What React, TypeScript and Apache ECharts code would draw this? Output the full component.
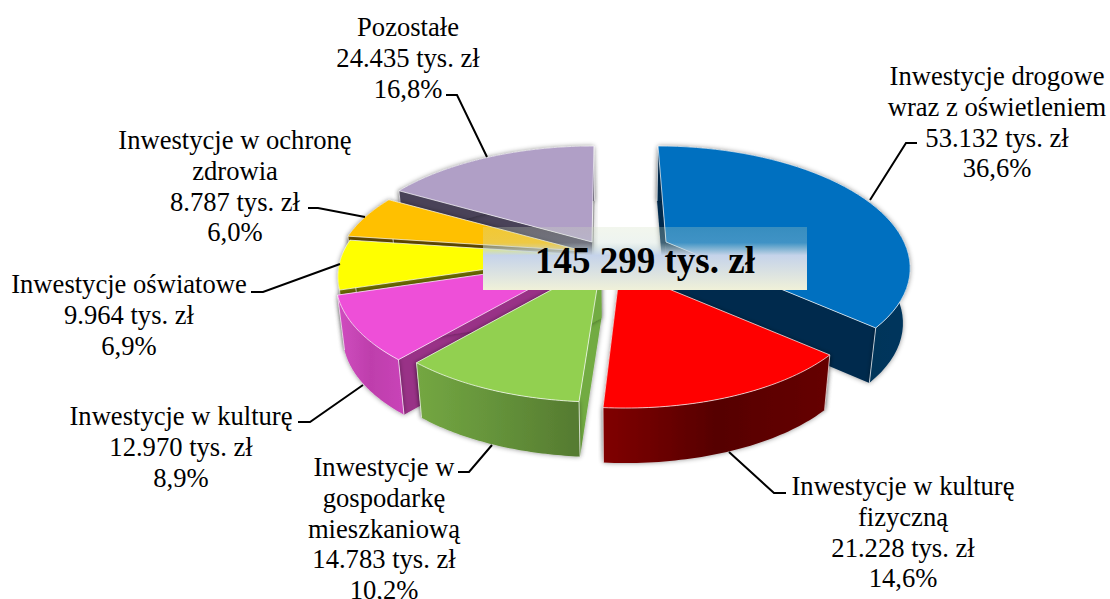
import React, { useEffect, useRef } from "react";
import * as echarts from "echarts";

const categories = [
  "Inwestycje drogowe\nwraz z oświetleniem",
  "Inwestycje w kulturę\nfizyczną",
  "Inwestycje w\ngospodarkę\nmieszkaniową",
  "Inwestycje w kulturę",
  "Inwestycje oświatowe",
  "Inwestycje w ochronę\nzdrowia",
  "Pozostałe",
];
const values = [53132, 21228, 14783, 12970, 9964, 8787, 24435];
const valueLabels = ["53.132", "21.228", "14.783", "12.970", "9.964", "8.787", "24.435"];
const percentLabels = ["36,6%", "14,6%", "10,2%", "8,9%", "6,9%", "6,0%", "16,8%"];
const totalLabel = "145 299 tys. zł";

// layout
const apex = [[666, 242], [620, 269], [601, 263], [583, 260], [585, 255], [583, 251], [592, 242]];
const radiusScale = [0.98, 1, 1, 1, 1, 1, 1];
const skew = [0.083, 0.036, 0, 0, 0, 0, -0.02];
const paintOrder = [1, 6, 5, 4, 3, 2, 0];
const labelPos = [[997, 61], [903, 471], [384, 452], [181, 401], [129, 269], [235, 125], [408, 12]];
const elbows = [
  [[870, 200], [906, 143], [917, 143]],
  [[729, 452], [774, 493], [786, 493]],
  [[492, 445], [469, 472], [458, 472]],
  [[363, 385], [310, 422], [298, 422]],
  [[340, 264], [263, 292], [251, 292]],
  [[365, 217], [318, 208], [308, 208]],
  [[487, 157], [457, 95], [446, 95]],
];
const topColors = ["#0070C0", "#FF0000", "#92D050", "#EE4FD8", "#FFFF00", "#FFC000", "#B09FC6"];
const startFaceColors = ["#002C4E", "#7D0000", "#72AB42", "#993087", "#6E6E00", "#664D00", "#4A4358"];
const endFaceColors = ["#002C4E", "#7D0000", "#72AB42", "#993087", "#6E6E00", "#664D00", "#A0A0A0"];
const wallStops: string[][] = [
  ["#002C4E", "#00365C"],
  ["#800000", "#560000", "#660000"],
  ["#74A742", "#64923A", "#557A30"],
  ["#D04EC0", "#BE3EAC", "#C944B8"],
  ["#6E6E00", "#6E6E00"],
  ["#664D00", "#664D00"],
  ["#4A4358", "#4A4358"],
];

const A = 243, B = 113.6, K = 0.183, DEPTH = 55, SHRINK = 0.975, XC = 620;
const total = values.reduce((a, b) => a + b, 0);

function rim(i: number, deg: number) {
  const t = (deg * Math.PI) / 180;
  const w = 1 + K * Math.cos(t);
  const y = -(B * Math.cos(t)) / w;
  const x = (A * radiusScale[i] * Math.sin(t)) / w + skew[i] * y;
  return [apex[i][0] + x, apex[i][1] + y];
}
const lower = (p: number[]) => [XC + (p[0] - XC) * SHRINK, p[1] + DEPTH];

function gradient(stops: string[]) {
  return new echarts.graphic.LinearGradient(
    0, 0, 1, 0,
    stops.map((color, k) => ({ offset: k / (stops.length - 1), color }))
  );
}

const shadow = { shadowBlur: 5, shadowColor: "rgba(0,0,0,0.45)" };
const edge = "rgba(255,255,255,0.7)";

function renderSlice(params: any, api: any) {
  const i = params.dataIndex;
  const before = values.slice(0, i).reduce((a, b) => a + b, 0);
  const start = (before / total) * 360;
  const end = start + (api.value(0) / total) * 360;
  const arc: number[][] = [];
  const n = 48;
  for (let k = 0; k <= n; k++) arc.push(rim(i, start + ((end - start) * k) / n));
  const c = apex[i];
  const cl = lower(c);
  const first = arc[0];
  const last = arc[n];
  const z = paintOrder[i] * 10;
  return {
    type: "group",
    children: [
      {
        type: "polygon",
        z2: z,
        shape: { points: [first, c, cl, lower(first)] },
        style: { fill: startFaceColors[i], ...shadow },
      },
      {
        type: "polygon",
        z2: z + 1,
        shape: { points: [last, c, cl, lower(last)] },
        style: { fill: endFaceColors[i], ...shadow },
      },
      {
        type: "polygon",
        z2: z + 2,
        shape: { points: [...arc, ...arc.map(lower).reverse()] },
        style: { fill: gradient(wallStops[i]), ...shadow },
      },
      {
        type: "polyline",
        z2: z + 3,
        shape: { points: [last, lower(last)] },
        style: { fill: "none", stroke: edge, lineWidth: 1 },
      },
      {
        type: "polyline",
        z2: z + 3,
        shape: { points: [first, lower(first)] },
        style: { fill: "none", stroke: edge, lineWidth: 1 },
      },
      {
        type: "polygon",
        z2: z + 4,
        shape: { points: [c, ...arc] },
        style: { fill: topColors[i], stroke: edge, lineWidth: 1 },
      },
    ],
  };
}

function renderLabel(params: any) {
  const i = params.dataIndex;
  const text = `${categories[i]}\n${valueLabels[i]} tys. zł\n${percentLabels[i]}`;
  return {
    type: "group",
    children: [
      {
        type: "polyline",
        shape: { points: elbows[i] },
        style: { fill: "none", stroke: "#000", lineWidth: 2 },
      },
      {
        type: "text",
        x: labelPos[i][0],
        y: labelPos[i][1],
        style: {
          text,
          fill: "#000",
          font: '26.6px "Liberation Serif"',
          align: "center",
          verticalAlign: "top",
          lineHeight: 30.6,
        },
      },
    ],
  };
}

function renderTotal() {
  return {
    type: "group",
    children: [
      {
        type: "rect",
        shape: { x: 483, y: 227, width: 324, height: 63 },
        style: {
          fill: new echarts.graphic.LinearGradient(0, 0, 0, 1, [
            { offset: 0, color: "rgba(207,222,190,0.27)" },
            { offset: 0.25, color: "rgba(200,220,210,0.32)" },
            { offset: 0.45, color: "rgba(197,211,234,1)" },
            { offset: 1, color: "rgba(240,241,217,1)" },
          ]),
        },
      },
      {
        type: "text",
        x: 645,
        y: 260,
        style: {
          text: totalLabel,
          fill: "#000",
          font: 'bold 37px "Liberation Serif"',
          align: "center",
          verticalAlign: "middle",
        },
      },
    ],
  };
}

export default function App() {
  const ref = useRef<HTMLDivElement>(null);
  useEffect(() => {
    const chart = echarts.init(ref.current!, null, { renderer: "svg" });
    chart.setOption({
      animation: false,
      backgroundColor: "#fff",
      series: [
        {
          type: "custom",
          coordinateSystem: "none",
          z: 2,
          silent: true,
          clip: false,
          renderItem: renderSlice,
          data: values.map((v) => [v]),
        },
        {
          type: "custom",
          coordinateSystem: "none",
          z: 3,
          silent: true,
          renderItem: renderLabel,
          data: values.map((v) => [v]),
        },
        {
          type: "custom",
          coordinateSystem: "none",
          z: 4,
          silent: true,
          renderItem: renderTotal,
          data: [[total]],
        },
      ],
    });
    return () => chart.dispose();
  }, []);
  return (
    <div
      ref={ref}
      style={{ position: "absolute", left: 0, top: 0, width: 1110, height: 599 }}
    />
  );
}
